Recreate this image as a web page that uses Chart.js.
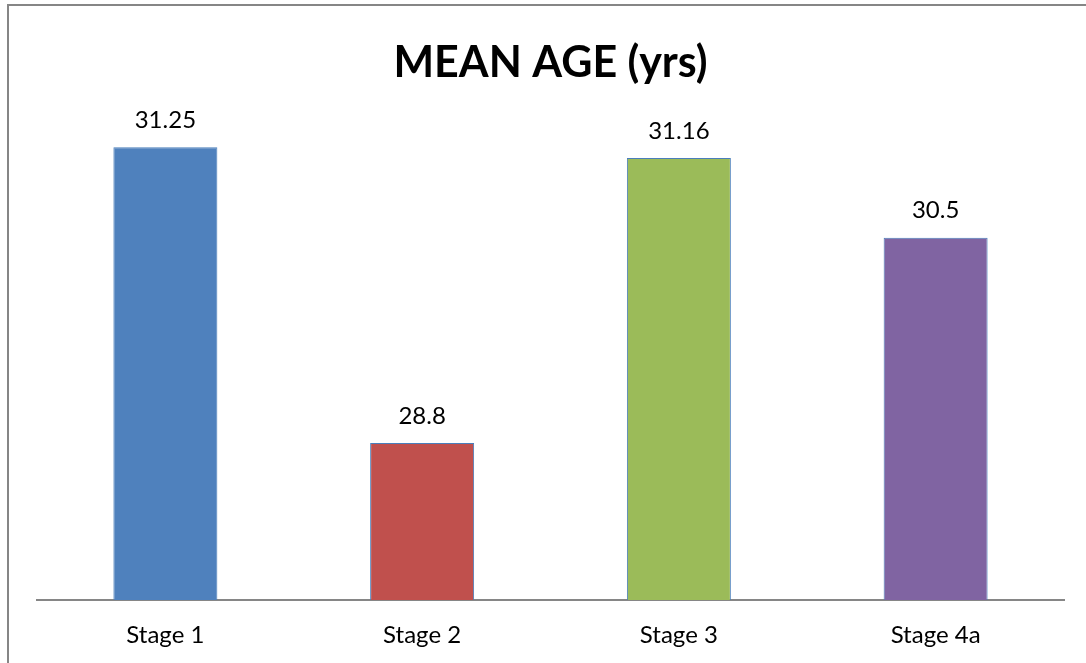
<!DOCTYPE html>
<html><head><meta charset="utf-8">
<script src="https://cdn.jsdelivr.net/npm/chart.js@4/dist/chart.umd.min.js"></script>
<style>html,body{margin:0;padding:0;background:#fff}#wrap{width:1086px;height:663px;position:relative}</style>
</head><body><div id="wrap"><canvas id="c" width="1086" height="663"></canvas></div>
<script>
const categories = ["Stage 1", "Stage 2", "Stage 3", "Stage 4a"];
const meanAge = [31.25, 28.8, 31.16, 30.5];
const valueLabels = ["31.25", "28.8", "31.16", "30.5"];
const barColors = ["#4F81BD", "#C0504D", "#9BBB59", "#8064A2"];
const FONT = "Lato, 'Open Sans', sans-serif";

const framePlugin = {
  id: 'frame',
  beforeDraw(chart) {
    const ctx = chart.ctx;
    ctx.save();
    ctx.fillStyle = '#fff';
    ctx.fillRect(0, 0, chart.width, chart.height);
    ctx.strokeStyle = '#868686';
    ctx.lineWidth = 2;
    ctx.beginPath();
    ctx.moveTo(8, 700);
    ctx.lineTo(8, 5);
    ctx.lineTo(1100, 5);
    ctx.stroke();
    ctx.restore();
  }
};
const labelPlugin = {
  id: 'vlabels',
  afterDatasetsDraw(chart) {
    const ctx = chart.ctx;
    const meta = chart.getDatasetMeta(0);
    ctx.save();
    ctx.font = "24px " + FONT;
    ctx.fillStyle = '#000';
    ctx.textAlign = 'center';
    ctx.textBaseline = 'middle';
    meta.data.forEach((bar, i) => {
      ctx.fillText(valueLabels[i], bar.x, bar.y - 27);
    });
    ctx.restore();
  }
};

new Chart(document.getElementById('c'), {
  type: 'bar',
  data: {
    labels: categories,
    datasets: [{
      data: meanAge,
      backgroundColor: barColors,
      borderColor: '#4A7EBB',
      borderWidth: 1,
      categoryPercentage: 1,
      barPercentage: 0.405
    }]
  },
  options: {
    responsive: false,
    animation: false,
    layout: { padding: { left: 37, right: 22, top: 0, bottom: 0 } },
    plugins: {
      legend: { display: false },
      tooltip: { enabled: false },
      title: {
        display: true,
        text: 'MEAN AGE (yrs)',
        color: '#000',
        font: { family: FONT, size: 43, weight: 'bold', lineHeight: 1.2 },
        padding: { top: 37.2, bottom: 28.2 }
      }
    },
    scales: {
      y: { display: false, min: 27.5, max: 31.5 },
      x: {
        grid: { display: false, drawTicks: false },
        border: { display: true, color: '#868686', width: 2 },
        ticks: { color: '#000', font: { family: FONT, size: 24, lineHeight: 1.2 }, padding: 20.6 },
        afterFit(scale) { scale.height = 63; }
      }
    }
  },
  plugins: [framePlugin, labelPlugin]
});
</script></body></html>
